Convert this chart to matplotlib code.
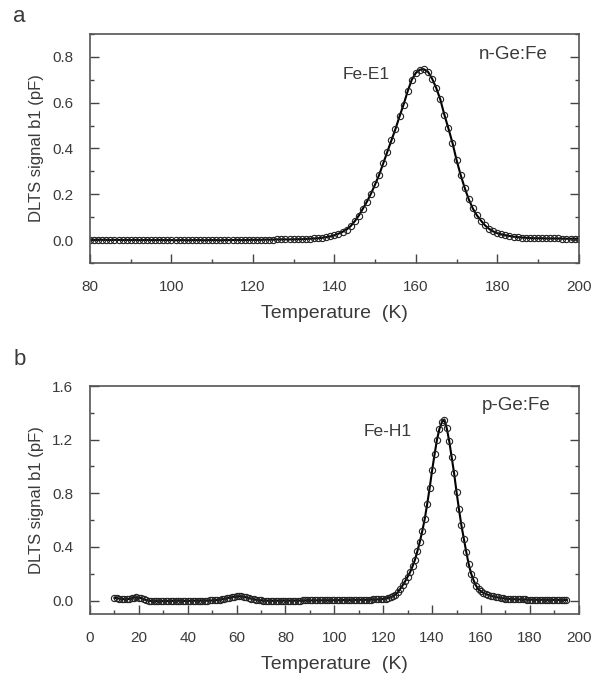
import numpy as np
import matplotlib
matplotlib.use('Agg')
import matplotlib.pyplot as plt
from matplotlib.ticker import MultipleLocator

plt.rcParams['font.family'] = ['Liberation Sans', 'DejaVu Sans']

# panel a: n-Ge:Fe, temperature grid (K) and DLTS signal (pF)
temp_a = np.arange(80, 201)
signal_a = [
    0.002, 0.001, 0.002, 0.001, 0.001, 0.000, 0.001, 0.001, 0.000, 0.001,
    0.000, 0.001, 0.000, 0.000, 0.001, 0.000, 0.000, 0.001, 0.000, 0.000,
    0.000, -0.001, 0.000, 0.000, -0.001, 0.000, 0.000, 0.000, -0.001, 0.000,
    0.000, 0.000, -0.001, 0.000, 0.000, 0.000, 0.001, 0.000, 0.000, 0.001,
    0.001, 0.001, 0.001, 0.002, 0.002, 0.002, 0.003, 0.003, 0.003, 0.003,
    0.003, 0.004, 0.004, 0.005, 0.006, 0.007, 0.008, 0.010, 0.013, 0.016,
    0.021, 0.028, 0.036, 0.046, 0.061, 0.082, 0.107, 0.137, 0.168, 0.203,
    0.243, 0.285, 0.335, 0.385, 0.435, 0.485, 0.540, 0.592, 0.650, 0.700,
    0.730, 0.744, 0.746, 0.735, 0.705, 0.665, 0.615, 0.548, 0.488, 0.425,
    0.350, 0.285, 0.228, 0.178, 0.138, 0.108, 0.085, 0.064, 0.049, 0.038,
    0.030, 0.025, 0.021, 0.018, 0.015, 0.013, 0.011, 0.010, 0.009, 0.008,
    0.008, 0.008, 0.007, 0.007, 0.007, 0.007, 0.006, 0.006, 0.006, 0.006, 0.006,
]

# panel b: p-Ge:Fe
temp_b = np.arange(10, 196)
signal_b = [
    0.020, 0.018, 0.015, 0.012, 0.010, 0.010, 0.012, 0.018, 0.022, 0.024,
    0.022, 0.018, 0.010, 0.004, 0.000, -0.003, -0.004, -0.004, -0.005, -0.004,
    -0.004, -0.003, -0.004, -0.003, -0.002, -0.002, -0.001, -0.002, -0.002, -0.003,
    -0.003, -0.002, -0.002, -0.001, -0.001, -0.001, 0.000, 0.000, 0.000, 0.001,
    0.001, 0.002, 0.004, 0.007, 0.010, 0.014, 0.018, 0.022, 0.026, 0.029,
    0.031, 0.032, 0.031, 0.028, 0.024, 0.019, 0.014, 0.010, 0.006, 0.003,
    0.001, 0.000, -0.001, -0.001, -0.001, -0.002, -0.002, -0.001, -0.001, -0.001,
    -0.001, -0.001, 0.000, 0.000, 0.000, 0.000, 0.000, 0.001, 0.001, 0.001,
    0.001, 0.001, 0.001, 0.002, 0.002, 0.002, 0.002, 0.002, 0.003, 0.003,
    0.003, 0.003, 0.003, 0.004, 0.004, 0.004, 0.004, 0.005, 0.005, 0.005,
    0.005, 0.006, 0.006, 0.006, 0.007, 0.007, 0.008, 0.008, 0.009, 0.010,
    0.012, 0.015, 0.019, 0.025, 0.033, 0.045, 0.062, 0.088, 0.115, 0.145,
    0.178, 0.212, 0.255, 0.305, 0.370, 0.440, 0.520, 0.610, 0.720, 0.840,
    0.970, 1.090, 1.200, 1.280, 1.330, 1.350, 1.285, 1.190, 1.070, 0.950,
    0.810, 0.680, 0.560, 0.460, 0.360, 0.270, 0.200, 0.150, 0.110, 0.085,
    0.068, 0.058, 0.049, 0.042, 0.036, 0.031, 0.027, 0.023, 0.020, 0.017,
    0.015, 0.013, 0.012, 0.011, 0.010, 0.009, 0.009, 0.008, 0.008, 0.007,
    0.007, 0.007, 0.006, 0.006, 0.006, 0.006, 0.005, 0.005, 0.005, 0.005,
    0.005, 0.005, 0.004, 0.004, 0.004, 0.004,
]

txt = '#3a3a3a'

fig = plt.figure(figsize=(5.96, 6.87), dpi=100)
ax_a = fig.add_axes([0.151, 0.6172, 0.820, 0.3333])
ax_b = fig.add_axes([0.151, 0.1063, 0.820, 0.3318])


def style(ax, xmaj, ymaj):
    ax.xaxis.set_major_locator(MultipleLocator(xmaj))
    ax.xaxis.set_minor_locator(MultipleLocator(xmaj / 2))
    ax.yaxis.set_major_locator(MultipleLocator(ymaj))
    ax.yaxis.set_minor_locator(MultipleLocator(ymaj / 2))
    ax.tick_params(which='both', direction='in', top=False, right=True,
                   colors='#444444', width=1.0)
    ax.tick_params(which='major', length=6.5, labelsize=11, pad=12,
                   labelcolor=txt)
    ax.tick_params(which='minor', length=3)
    for s in ax.spines.values():
        s.set_color('#555555')
        s.set_linewidth(1.2)
    ax.set_xlabel('Temperature  (K)', fontsize=14, color=txt, labelpad=8)
    ax.set_ylabel('DLTS signal b1 (pF)', fontsize=12, color=txt, labelpad=6)


# panel a
ax_a.plot(temp_a, signal_a, color='black', lw=1.5, marker='o', ms=4.5,
          mfc='none', mec='#222222', mew=0.8)
ax_a.set_xlim(80, 200)
ax_a.set_ylim(-0.1, 0.9)
style(ax_a, 20, 0.2)
ax_a.yaxis.set_major_formatter(lambda v, p: f'{v:.1f}')
ax_a.text(175.5, 0.79, 'n-Ge:Fe', fontsize=13.5, color=txt)
ax_a.text(142.1, 0.703, 'Fe-E1', fontsize=12.5, color=txt)

# panel b
ax_b.plot(temp_b, signal_b, color='black', lw=1.5, marker='o', ms=4.5,
          mfc='none', mec='#222222', mew=0.8)
ax_b.set_xlim(0, 200)
ax_b.set_ylim(-0.1, 1.6)
style(ax_b, 20, 0.4)
ax_b.yaxis.set_major_formatter(lambda v, p: f'{v:.1f}')
ax_b.text(160.2, 1.418, 'p-Ge:Fe', fontsize=13.5, color=txt)
ax_b.text(111.8, 1.225, 'Fe-H1', fontsize=12.5, color=txt)

fig.text(0.022, 0.968, 'a', fontsize=16, color=txt)
fig.text(0.022, 0.469, 'b', fontsize=16, color=txt)

fig.savefig('out.png', dpi=100)
